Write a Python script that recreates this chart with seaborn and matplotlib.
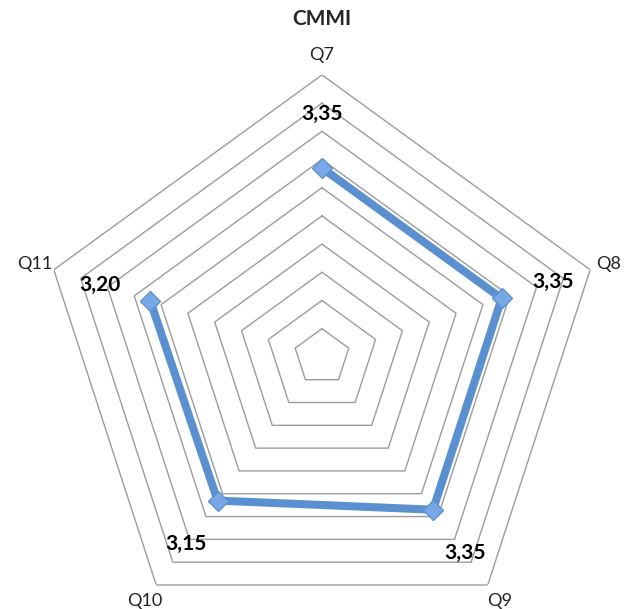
import numpy as np
import pandas as pd
import matplotlib
matplotlib.use("Agg")
import matplotlib.pyplot as plt
import seaborn as sns

# Survey scores per question
categories = ["Q7", "Q8", "Q9", "Q10", "Q11"]
scores = [3.35, 3.35, 3.35, 3.15, 3.20]
score_labels = ["3,35", "3,35", "3,35", "3,15", "3,20"]
grid_levels = [0.5, 1.0, 1.5, 2.0, 2.5, 3.0, 3.5, 4.0, 4.5, 5.0]
r_max = 5.0
title = "CMMI"

sns.set_theme(style="white")
plt.rcParams["font.family"] = ["Lato", "DejaVu Sans"]

n = len(categories)
angles = np.arange(n) * 2 * np.pi / n

fig = plt.figure(figsize=(6.28, 6.09), dpi=100)
ax = fig.add_axes([0.0637, -0.049, 0.898, 0.926], projection="polar")
ax.set_theta_offset(np.pi / 2)
ax.set_theta_direction(-1)
ax.set_ylim(0, r_max)
ax.grid(False)
ax.spines["polar"].set_visible(False)
ax.set_xticks([])
ax.set_yticks([])
ax.patch.set_alpha(0)

# Pentagonal grid rings
closed_angles = np.append(angles, angles[0])
for lvl in grid_levels:
    ax.plot(closed_angles, [lvl] * (n + 1), color="#9c9c9c", lw=1.0, zorder=1)

# Score polygon
df = pd.DataFrame({"theta": closed_angles, "score": scores + scores[:1]})
sns.lineplot(data=df, x="theta", y="score", sort=False, ax=ax,
             color="#5a8fd0", lw=5.8, zorder=3, legend=False)
ax.plot(angles, scores, linestyle="none", marker="D", markersize=10.5,
        markerfacecolor="#78a9e6", markeredgecolor="#5d92d2",
        markeredgewidth=1, zorder=4)
ax.set_xlabel("")
ax.set_ylabel("")

# Value labels placed outside each point
for a, s, lab in zip(angles, scores, score_labels):
    ax.text(a, s + 0.95, lab, ha="center", va="center", fontsize=15,
            fontweight="bold", color="black", zorder=5)

# Category labels
for a, c in zip(angles, categories):
    ax.text(a, 5.35, c, ha="center", va="center", fontsize=13,
            color="#222222", clip_on=False)

fig.text(0.513, 0.968, title, ha="center", va="center", fontsize=15,
         fontweight="bold")

ax.set_ylim(0, r_max)
fig.savefig("out.png", dpi=100)
